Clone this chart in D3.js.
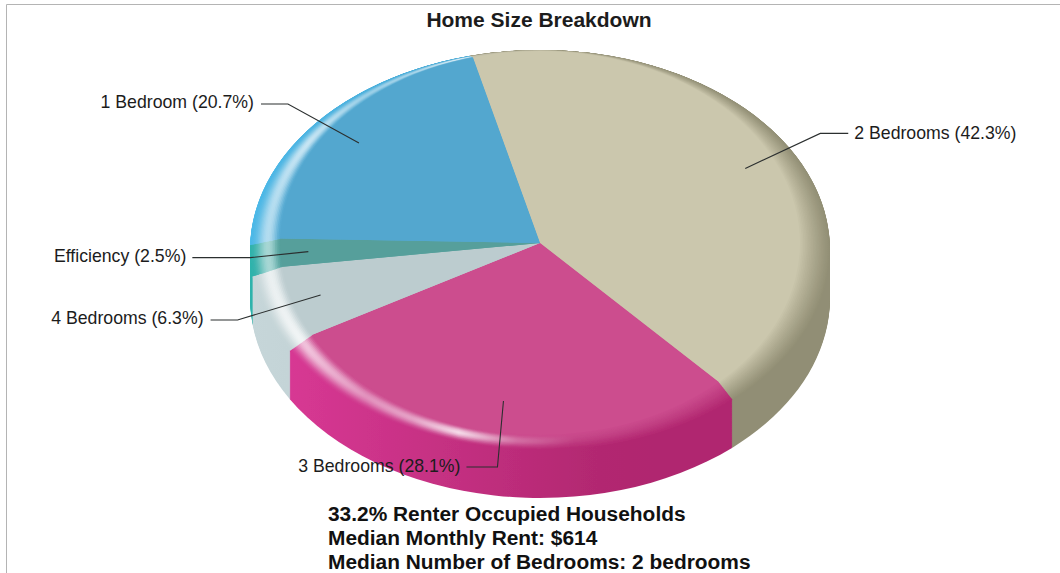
<!DOCTYPE html>
<html><head><meta charset="utf-8">
<style>html,body{margin:0;padding:0;background:#fff}svg{display:block}text{font-family:"Liberation Sans",Arial,sans-serif;fill:#1c1c1c}</style>
<script src="https://cdn.jsdelivr.net/npm/d3@7"></script></head>
<body><svg id="c" width="1060" height="573"></svg>
<script>
const categories = ["2 Bedrooms","3 Bedrooms","4 Bedrooms","Efficiency","1 Bedroom"];
const shares = [42.3,28.1,6.3,2.5,20.7];
const faceColors = ["#cbc7ad","#cc4d8e","#bccccf","#569f9b","#53a7cf"];
const wallLeft = ["#a8a58c","#dc3a98","#c6d6d9","#2fb3ac","#4cb9e8"];
const wallRight = ["#918e74","#b0276f","#b4c4c7","#2c9a94","#3f9cc6"];
const notes = ["33.2% Renter Occupied Households","Median Monthly Rent: $614","Median Number of Bedrooms: 2 bedrooms"];
const title = "Home Size Breakdown";

// layout
const W=1060,H=573,cx=540,aspect=1.45,startDeg=-14;
const outer={rx:290,ry:200,cy:250}, flat={rx:260,ry:192,cy:243}, wallDepth=48;
const anchorR=232;
const leaders=[ // elbow offset from anchor, label end offset, text anchor
 {dx:75,dy:-35,run:28,ax:"start",gap:6,ty:-2},
 {dx:-6,dy:66,run:-31,ax:"end",gap:-6,ty:-2},
 {dx:-83,dy:25,run:-27,ax:"end",gap:-7,ty:-3},
 {dx:-58,dy:6,run:-58,ax:"end",gap:-6,ty:-3},
 {dx:-71,dy:-39,run:-27,ax:"end",gap:-7,ty:-3}
];
const svg=d3.select("#c"),defs=svg.append("defs");
defs.append("filter").attr("id","soft").append("feGaussianBlur").attr("stdDeviation",0.6);
const pie=d3.pie().sort(null).startAngle(startDeg*Math.PI/180).endAngle((startDeg+360)*Math.PI/180);
const arcs=pie(shares);
const wedge=d3.arc().innerRadius(0);
const hlStops=[[0,.6],[.1,.8],[.2,.5],[.28,.6],[.36,.95],[.46,.3],[.56,.04],[1,0]];
const hlBySlice=[.3,.85,1,.8,.85];
let gid=0;
function gradient(stops){
  const id="g"+(gid++);
  // coordinates are local to each translated layer, so they run around the pie's centre
  const g=defs.append("linearGradient").attr("id",id).attr("gradientUnits","userSpaceOnUse")
    .attr("x1",-outer.rx).attr("x2",outer.rx).attr("y1",0).attr("y2",0);
  stops.forEach(s=>g.append("stop").attr("offset",s[0]).attr("stop-color",s[1]));
  return "url(#"+id+")";
}
const wallAt=(i,f)=>d3.interpolateRgb(wallLeft[i],wallRight[i])(Math.min(1,f*1.6));
function bevelFill(i,s){
  const h=Math.pow(Math.sin(Math.PI*s*s),2);
  const dark=1-s*s;
  return gradient(hlStops.map(([f,a])=>{
    let col=d3.interpolateRgb(faceColors[i],wallAt(i,f))(dark);
    col=d3.interpolateRgb(col,"#ffffff")(a*h*hlBySlice[i]);
    return [f,col];
  }));
}
const pie3d=svg.append("g").attr("filter","url(#soft)");
// side wall
for(let d=wallDepth;d>=0;d-=1){
  const g=pie3d.append("g").attr("transform",`translate(${cx},${outer.cy+d}) scale(1,${1/aspect})`);
  arcs.forEach((a,i)=>{
    if(d===wallDepth)a._w=gradient(d3.range(0,1.01,.1).map(f=>[f,wallAt(i,f)]));
    g.append("path").attr("d",wedge.outerRadius(outer.rx)(a)).attr("fill",a._w);
  });
}
// rounded bevel
const steps=28;
for(let n=1;n<=steps;n++){
  const s=n/steps,c=Math.cos(s*Math.PI/2);
  const rx=flat.rx+(outer.rx-flat.rx)*c, ry=flat.ry+(outer.ry-flat.ry)*c, cy=flat.cy+(outer.cy-flat.cy)*c;
  const clipId="k"+n;
  defs.append("clipPath").attr("id",clipId).append("ellipse").attr("cx",cx).attr("cy",cy).attr("rx",rx).attr("ry",ry);
  const cg=pie3d.append("g").attr("clip-path",`url(#${clipId})`);
  const g=cg.append("g").attr("transform",`translate(${cx},${cy}) scale(1,${1/aspect})`);
  arcs.forEach((a,i)=>{
    g.append("path").attr("d",wedge.outerRadius(outer.rx*1.3)(a))
      .attr("fill",n===steps?faceColors[i]:bevelFill(i,s));
  });
}
// leaders and labels
const lab=svg.append("g");
arcs.forEach((a,i)=>{
  const m=(a.startAngle+a.endAngle)/2,L=leaders[i];
  const ax=cx+anchorR*Math.sin(m), ay=flat.cy-anchorR*Math.cos(m)/aspect;
  const ex=ax+L.dx, ey=ay+L.dy, tx=ex+L.run;
  lab.append("polyline").attr("points",[[ax,ay],[ex,ey],[tx,ey]].join(" "))
    .attr("fill","none").attr("stroke","#2b2f2f").attr("stroke-width",1.1);
  lab.append("text").attr("x",tx+L.gap).attr("y",ey+1+L.ty).attr("dy",".35em").attr("text-anchor",L.ax)
    .attr("font-size",17.7).text(`${categories[i]} (${shares[i].toFixed(1)}%)`);
});
// frame
svg.append("path").attr("d",`M6.5,${H}V4.5H${W}`).attr("fill","none").attr("stroke","#b4b4b4");
svg.append("text").attr("x",539).attr("y",27).attr("text-anchor","middle").attr("font-size",21).attr("font-weight","bold").text(title);
const ny=d3.scalePoint().domain(notes).range([521,569]);
notes.forEach(t=>svg.append("text").attr("x",328).attr("y",ny(t)).attr("font-size",20.9).attr("font-weight","bold").attr("style","fill:#111").text(t));
</script></body></html>
